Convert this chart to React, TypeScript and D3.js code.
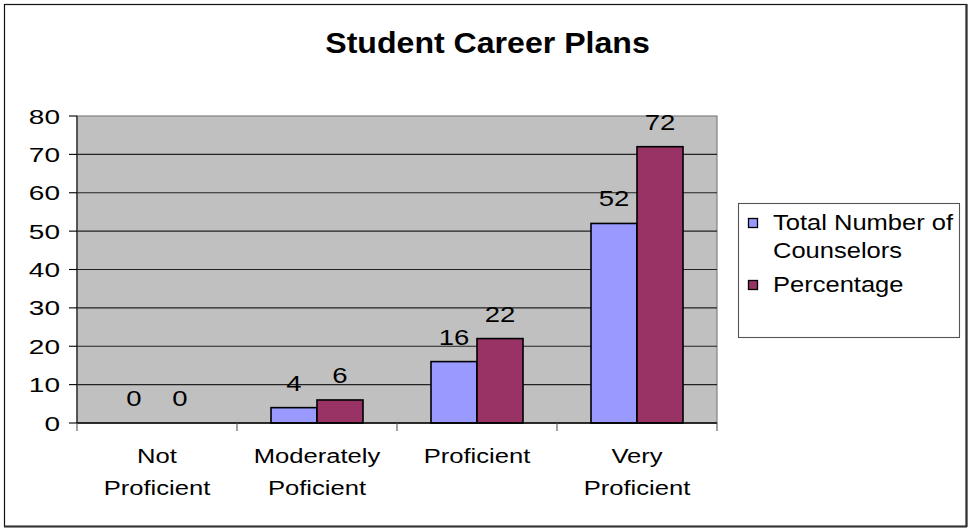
import React, { useEffect } from "react";
import * as d3 from "d3";

const categories: string[][] = [
  ["Not", "Proficient"],
  ["Moderately", "Poficient"],
  ["Proficient"],
  ["Very", "Proficient"],
];
const seriesNames = ["Total Number of Counselors", "Percentage"];
const counselors = [0, 4, 16, 52];
const percentage = [0, 6, 22, 72];
const yTicks = [0, 10, 20, 30, 40, 50, 60, 70, 80];
const legendLines: string[][] = [["Total Number of", "Counselors"], ["Percentage"]];
const title = "Student Career Plans";

const W = 972;
const H = 529;
const plot = { left: 77, right: 717, top: 116, bottom: 423 };
const colors = ["#9999FF", "#993366"];
const FONT = "'Liberation Sans', Arial, sans-serif";

function SText(props: {
  x: number;
  y: number;
  sx: number;
  size: number;
  anchor?: string;
  weight?: string;
  children: React.ReactNode;
}) {
  const { x, y, sx, size, anchor = "middle", weight = "normal", children } = props;
  return (
    <text
      transform={`translate(${x},${y}) scale(${sx},1)`}
      textAnchor={anchor}
      fontSize={size}
      fontWeight={weight}
      fontFamily={FONT}
      fill="#000"
    >
      {children}
    </text>
  );
}

export default function App() {
  useEffect(() => {
    document.body.style.margin = "0";
  }, []);

  const idx = categories.map((_, i) => String(i));
  const x0 = d3.scaleBand<string>().domain(idx).range([plot.left, plot.right]).paddingInner(0).paddingOuter(0);
  const bw = x0.bandwidth();
  const x1 = d3
    .scaleBand<string>()
    .domain(seriesNames)
    .range([bw * 0.2125, bw * 0.7875])
    .padding(0);
  const y = d3.scaleLinear().domain([0, 80]).range([plot.bottom, plot.top]);
  const seriesVals = [counselors, percentage];

  const legend = { x: 738, y: 203, w: 221, h: 134 };
  const tickSize = 20;

  return (
    <svg
      width={W}
      height={H}
      style={{ position: "absolute", left: 0, top: 0, background: "#fff" }}
    >
      {/* outer chart border */}
      <rect x={4.5} y={4.5} width={962} height={522} fill="#fff" stroke="#111" strokeWidth={1.2} />
      <line x1={966.5} y1={4} x2={966.5} y2={527} stroke="#333" strokeWidth={2.2} />
      <line x1={4} y1={526.5} x2={967} y2={526.5} stroke="#333" strokeWidth={2.2} />

      {/* title */}
      <SText x={487.5} y={53} sx={1.07} size={30} weight="bold">
        {title}
      </SText>

      {/* plot area */}
      <rect
        x={plot.left}
        y={plot.top}
        width={plot.right - plot.left}
        height={plot.bottom - plot.top}
        fill="#C0C0C0"
        stroke="#808080"
        strokeWidth={1.2}
      />
      {yTicks
        .filter((t) => t > 0 && t < 80)
        .map((t) => (
          <line key={"g" + t} x1={plot.left} x2={plot.right} y1={y(t)} y2={y(t)} stroke="#222" strokeWidth={1.1} />
        ))}

      {/* bars */}
      {categories.map((_, ci) => (
        <g key={"c" + ci} transform={`translate(${x0(String(ci))},0)`}>
          {seriesNames.map((s, si) => {
            const v = seriesVals[si][ci];
            const bx = x1(s)!;
            const by = y(v);
            return (
              <g key={s}>
                {v > 0 && (
                  <rect
                    x={bx}
                    y={by}
                    width={x1.bandwidth()}
                    height={y(0) - by}
                    fill={colors[si]}
                    stroke="#000"
                    strokeWidth={1.6}
                  />
                )}
                <SText x={bx + x1.bandwidth() / 2} y={by - 17} sx={1.25} size={22}>
                  {v}
                </SText>
              </g>
            );
          })}
        </g>
      ))}

      {/* y axis */}
      <line x1={plot.left} x2={plot.left} y1={plot.top} y2={plot.bottom} stroke="#333" strokeWidth={1.4} />
      {yTicks.map((t) => {
        const label = String(t);
        const len = label.length * 0.556 * tickSize * 1.4;
        return (
          <g key={"t" + t}>
            <line x1={plot.left - 8} x2={plot.left} y1={y(t)} y2={y(t)} stroke="#000" strokeWidth={1.1} />
            <text
              x={plot.left - 17 - len}
              y={y(t) + 7.5}
              textLength={len}
              lengthAdjust="spacingAndGlyphs"
              fontSize={tickSize}
              fontFamily={FONT}
              fill="#000"
            >
              {label}
            </text>
          </g>
        );
      })}

      {/* x axis */}
      <line x1={plot.left} x2={plot.right} y1={plot.bottom} y2={plot.bottom} stroke="#000" strokeWidth={1.4} />
      {[...idx, "end"].map((k, i) => {
        const xx = k === "end" ? plot.right : x0(k)!;
        return <line key={"xt" + i} x1={xx} x2={xx} y1={plot.bottom} y2={plot.bottom + 8} stroke="#555" strokeWidth={1.1} />;
      })}
      {categories.map((lines, ci) => (
        <g key={"cl" + ci}>
          {lines.map((ln, li) => (
            <SText key={li} x={x0(String(ci))! + bw / 2} y={463 + li * 32} sx={1.22} size={21}>
              {ln}
            </SText>
          ))}
        </g>
      ))}

      {/* legend */}
      <rect x={legend.x + 0.5} y={legend.y + 0.5} width={legend.w} height={legend.h} fill="#fff" stroke="#555" strokeWidth={1.1} />
      {legendLines.map((lines, si) => {
        const base = si === 0 ? 230 : 292;
        return (
          <g key={"lg" + si}>
            <rect
              x={748.5}
              y={base - 11.5}
              width={9}
              height={9}
              fill={colors[si]}
              stroke="#000"
              strokeWidth={1.3}
            />
            {lines.map((ln, li) => (
              <SText key={li} x={773} y={base + li * 28} sx={1.16} size={22} anchor="start">
                {ln}
              </SText>
            ))}
          </g>
        );
      })}
    </svg>
  );
}
